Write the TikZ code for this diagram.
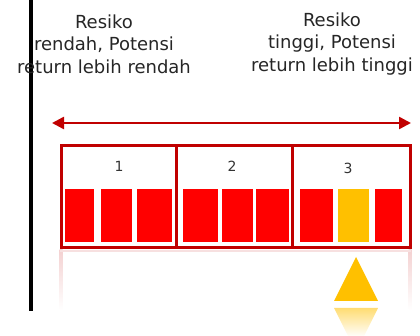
\documentclass[tikz,border=0pt]{standalone}
\usepackage{fontspec}
\setmainfont{DejaVu Sans}
\usetikzlibrary{arrows.meta}
\definecolor{dred}{HTML}{C00000}
\definecolor{bred}{HTML}{FF0000}
\definecolor{gold}{HTML}{FFC000}
\tikzset{
  lbl/.style={align=center, font=\fontsize{18}{22.5}\selectfont, text=black!85, inner sep=0pt},
  num/.style={font=\fontsize{14}{16}\selectfont, text=black!80, inner sep=0pt},
  bar/.style={fill=bred, draw=none},
  barg/.style={fill=gold, draw=none},
  frame/.style={draw=dred, line width=3pt},
  sep/.style={draw=dred, line width=2.5pt},
}
\begin{document}
\begin{tikzpicture}[x=1pt,y=-1pt]
\useasboundingbox (0,0) rectangle (420,336);
% vertical black line
\draw[line width=3.6pt] (31,0) -- (31,311);
% labels
\node[lbl] (left) at (104,44) {Resiko\\rendah, Potensi\\return lebih rendah};
\node[lbl] (right) at (332,44) {Resiko\\tinggi, Potensi\\return lebih tinggi};
% double arrow
\coordinate (al) at (52,123);
\coordinate (ar) at (411,123);
\draw[dred, line width=2.5pt, {Triangle[length=12pt,width=12pt]}-{Triangle[length=12pt,width=12pt]}] (al) -- (ar);
% reflection of frame
\shade[top color=dred!18, bottom color=white] (59.5,250) rectangle (62.5,310);
\shade[top color=dred!18, bottom color=white] (408.5,250) rectangle (411.5,310);
\fill[dred!12] (60,250) rectangle (411,252);
% bars
\fill[bar] (65,189) rectangle (94,242);
\fill[bar] (101,189) rectangle (132,242);
\fill[bar] (137,189) rectangle (172,242);
\fill[bar] (183,189) rectangle (218,242);
\fill[bar] (222,189) rectangle (253,242);
\fill[bar] (256,189) rectangle (289,242);
\fill[bar] (300,189) rectangle (333,242);
\fill[barg] (338,189) rectangle (369,242);
\fill[bar] (375,189) rectangle (402,242);
% frame
\draw[frame] (61,145.5) rectangle (410,248);
\draw[sep] (176.5,145.5) -- (176.5,248);
\draw[sep] (292.5,145.5) -- (292.5,248);
% numbers
\node[num] (n1) at (119,166) {1};
\node[num] (n2) at (232,166) {2};
\node[num] (n3) at (348,168) {3};
% triangle marker
\fill[gold] (356,257) -- (378,301) -- (334,301) -- cycle;
\begin{scope}
\clip (334,308) -- (378,308) -- (356,352) -- cycle;
\shade[top color=gold!55!white, bottom color=white] (330,308) rectangle (382,337);
\end{scope}
\end{tikzpicture}
\end{document}
